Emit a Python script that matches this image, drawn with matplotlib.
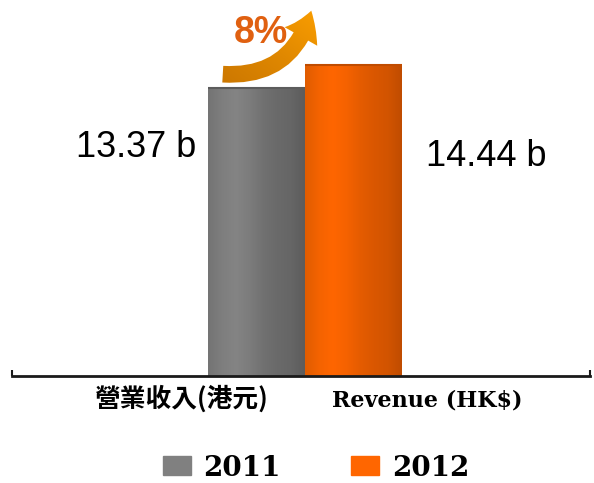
"""Revenue bars, 2011 vs 2012."""

import matplotlib
matplotlib.use("Agg")
import matplotlib.pyplot as plt
import numpy as np
from matplotlib.colors import LinearSegmentedColormap
from matplotlib.patches import FancyArrowPatch, Patch


YEARS = ["2011", "2012"]
REVENUE = [13.37, 14.44]
VALUE_LABELS = ["13.37 b", "14.44 b"]
CATEGORY_CN = "營業收入(港元)"
CATEGORY_EN = "Revenue (HK$)"
GROWTH = "8%"

BAR_COLORS = ["#808080", "#FF6600"]
# left -> right shading for the cylinder look
SHADES = [
    ["#747474", "#7e7e7e", "#848484", "#7c7c7c", "#717171", "#6a6a6a", "#666666", "#5c5c5c"],
    ["#E05C00", "#F46300", "#FF6600", "#F56200", "#E55C00", "#DA5700", "#D25400", "#C04C00"],
]


def main() -> None:
    """Draw the chart and save it."""
    fig = plt.figure(figsize=(5.94, 4.83), dpi=100)
    ax = fig.add_axes([12 / 594, 107 / 483, 578 / 594, 366 / 483])

    xs = np.arange(len(YEARS))
    bars = ax.bar(xs, REVENUE, width=1.0, color=BAR_COLORS, zorder=2, linewidth=0)
    grad = np.linspace(0, 1, 200)[None, :]
    for bar, shades in zip(bars, SHADES):
        cmap = LinearSegmentedColormap.from_list("shade", shades)
        x0 = bar.get_x()
        h = bar.get_height()
        img = ax.imshow(grad, cmap=cmap, extent=(x0, x0 + bar.get_width(), 0, h),
                        aspect="auto", zorder=3)
        img.set_clip_path(bar)
        ax.plot([x0, x0 + bar.get_width()], [h, h], color=shades[-1], lw=1.5,
                zorder=4, solid_capstyle="butt")
    ax.set_xlim(-2.52, 3.44)
    ax.set_ylim(0, 17)

    label_pos = [(-1.24, 10.6), (2.37, 10.2)]
    for (lx, ly), txt in zip(label_pos, VALUE_LABELS):
        ax.text(lx, ly, txt, ha="center", va="center", fontsize=26,
                family="Liberation Sans", color="black")

    for side in ["top", "left", "right"]:
        ax.spines[side].set_visible(False)
    ax.spines["bottom"].set_linewidth(2)
    ax.spines["bottom"].set_color("#1a1a1a")
    ax.spines["bottom"].set_zorder(5)
    ax.set_yticks([])
    ax.set_xticks([-2.52, 3.44])
    ax.set_xticklabels([])
    ax.tick_params(axis="x", direction="in", length=4, width=1.5, color="#1a1a1a")

    fig.text(182 / 594, 1 - 399 / 483, CATEGORY_CN, ha="center", va="center",
             fontsize=18.5, weight="bold", family=["Noto Sans CJK TC", "DejaVu Sans"])
    fig.text(427 / 594, 1 - 400 / 483, CATEGORY_EN, ha="center", va="center",
             fontsize=16, weight="bold", family="DejaVu Serif")

    # growth arrow with a gold gradient, drawn on a pixel-space overlay
    over = fig.add_axes([0, 0, 1, 1], zorder=6)
    over.set_xlim(0, 594)
    over.set_ylim(483, 0)
    over.axis("off")
    over.patch.set_alpha(0)
    arrow = FancyArrowPatch((220, 74), (312, 8),
                            connectionstyle="arc3,rad=0.42",
                            arrowstyle="simple,tail_width=0.6,head_width=1.35,head_length=1.0",
                            mutation_scale=20, facecolor="none", edgecolor="none")
    over.add_patch(arrow)
    arrow_cmap = LinearSegmentedColormap.from_list("gold", ["#C87400", "#E08800", "#FFA200"])
    diag = np.add.outer(np.linspace(1, 0, 100), np.linspace(0, 1, 100)) / 2
    aimg = over.imshow(diag, cmap=arrow_cmap, extent=(210, 325, 90, 0),
                       aspect="auto", zorder=6)
    aimg.set_clip_path(arrow)
    over.set_xlim(0, 594)
    over.set_ylim(483, 0)

    fig.text(261 / 594, 1 - 33 / 483, GROWTH, ha="center", va="center",
             fontsize=27, weight="bold", family="Liberation Sans", color="#E06010",
             zorder=7)

    handles = [Patch(color=c, label=y) for c, y in zip(BAR_COLORS, YEARS)]
    fig.legend(handles=handles, loc="center", bbox_to_anchor=(316 / 594, 1 - 468 / 483),
               ncol=2, frameon=False, handlelength=1.0, handleheight=0.68,
               handletextpad=0.45, columnspacing=2.55,
               prop=dict(family="DejaVu Serif", weight="bold", size=20))

    fig.savefig("out.png", dpi=100)


if __name__ == "__main__":
    main()
